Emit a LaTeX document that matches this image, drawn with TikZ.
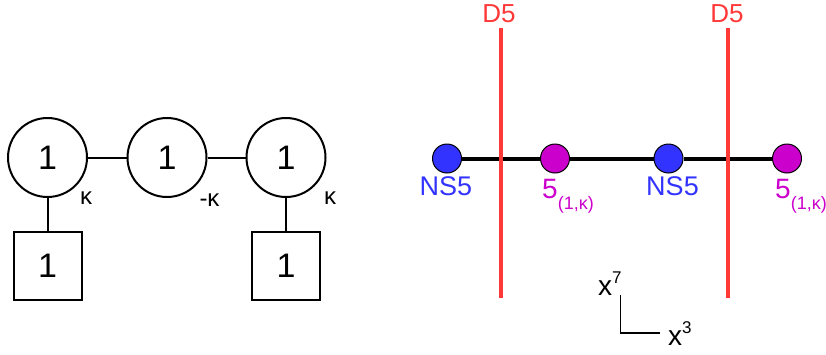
\documentclass[tikz,border=0pt]{standalone}
\usepackage{fontspec}
\setmainfont{Liberation Sans}
\definecolor{dred}{RGB}{255,56,56}
\definecolor{nsblue}{RGB}{51,51,255}
\definecolor{fpurple}{RGB}{204,0,204}
\begin{document}
\begin{tikzpicture}[x=1pt,y=-1pt,
  gauge/.style={draw,circle,line width=2pt,minimum size=79pt,inner sep=0pt,font=\fontsize{34}{38}\selectfont},
  flav/.style={draw,rectangle,line width=2pt,minimum size=68pt,inner sep=0pt,font=\fontsize{34}{38}\selectfont},
  qline/.style={line width=2pt},
  kap/.style={inner sep=0pt,font=\fontsize{24}{28}\selectfont},
  brane/.style={draw=black,circle,line width=1pt,minimum size=29pt,inner sep=0pt},
  nsb/.style={brane,fill=nsblue},
  fb/.style={brane,fill=fpurple},
  nslab/.style={inner sep=0pt,text=nsblue,font=\fontsize{27}{30}\selectfont},
  flab/.style={inner sep=0pt,text=fpurple,font=\fontsize{28}{30}\selectfont},
  dlab/.style={inner sep=0pt,text=dred,font=\fontsize{26}{30}\selectfont},
  dfive/.style={draw=dred,line width=4pt},
  axlab/.style={inner sep=0pt,font=\fontsize{28}{32}\selectfont},
]
\useasboundingbox (0,0) rectangle (826,354);
% quiver
\node[gauge] (g1) at (47.5,157.5) {1};
\node[gauge] (g2) at (167,157.5) {1};
\node[gauge] (g3) at (286,157.5) {1};
\node[flav] (f1) at (47.5,265.5) {1};
\node[flav] (f3) at (286,265.5) {1};
\draw[qline] (g1) -- (g2);
\draw[qline] (g2) -- (g3);
\draw[qline] (g1) -- (f1);
\draw[qline] (g3) -- (f3);
\node[kap] (k1) at (86,198) {κ};
\node[kap] (k2) at (209.5,200) {-κ};
\node[kap] (k3) at (330,198) {κ};
% brane setup
\node[nsb] (n1) at (447,158.5) {};
\node[fb] (p1) at (555,158.5) {};
\node[nsb] (n2) at (668.5,158.5) {};
\node[fb] (p2) at (787,158.5) {};
\draw[line width=4pt] (n1) -- (p1);
\draw[line width=4pt] (p1) -- (n2);
\draw[line width=4pt] (n2) -- (p2);
\node[dlab,anchor=base] (d1) at (499,22) {D5};
\node[dlab,anchor=base] (d2) at (727,22) {D5};
\coordinate (d1top) at (501,28);
\coordinate (d1bot) at (501,298);
\coordinate (d2top) at (728,28);
\coordinate (d2bot) at (728,298);
\draw[dfive] (d1top) -- (d1bot);
\draw[dfive] (d2top) -- (d2bot);
\node[nslab,anchor=base] (nl1) at (446,195) {NS5};
\node[nslab,anchor=base] (nl2) at (672.5,195) {NS5};
\node[flab,anchor=base west] (fl1) at (542,198) {5\raisebox{-11pt}{\fontsize{18}{20}\selectfont(1,κ)}};
\node[flab,anchor=base west] (fl2) at (775,198) {5\raisebox{-11pt}{\fontsize{18}{20}\selectfont(1,κ)}};
% axes
\coordinate (atop) at (620.5,295);
\coordinate (acorner) at (620.5,333);
\coordinate (aright) at (660,333);
\draw[line width=1.5pt] (atop) -- (acorner) -- (aright);
\node[axlab,anchor=base west] (x7) at (598,295) {x\raisebox{12pt}{\fontsize{17}{19}\selectfont 7}};
\node[axlab,anchor=base west] (x3) at (668,345) {x\raisebox{12pt}{\fontsize{17}{19}\selectfont 3}};
\end{tikzpicture}
\end{document}
